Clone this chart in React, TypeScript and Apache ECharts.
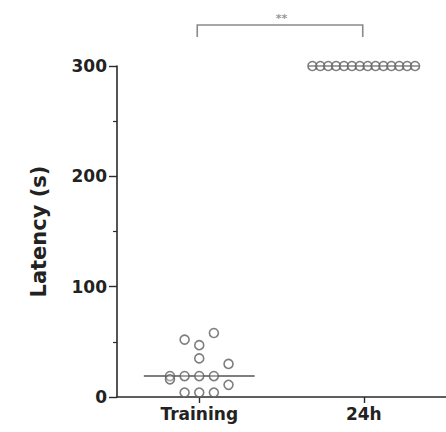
import React, { useEffect, useRef } from "react";
import * as echarts from "echarts";

// ---- data ----
const categories = ["Training", "24h"];
const trainingLatency = [58, 52, 47, 35, 30, 19, 19, 19, 19, 16, 11, 4, 4, 4];
// swarm column of each Training point (as seen in the picture)
const trainingSwarmColumn = [1, -1, 0, 0, 2, -2, -1, 0, 1, -2, 2, -1, 0, 1];
const latency24h = [300, 300, 300, 300, 300, 300, 300, 300, 300, 300, 300, 300, 300, 300];
const yTickValues = [0, 100, 200, 300];
const yAxisTitle = "Latency (s)";
const significance = "**";

const FONT = "DejaVu Sans";
const AXIS_COLOR = "#2a2a2a";
const POINT_COLOR = "#5e5e5e";

function median(values: number[]): number {
  const s = [...values].sort((a, b) => a - b);
  const m = Math.floor(s.length / 2);
  return s.length % 2 ? s[m] : (s[m - 1] + s[m]) / 2;
}

export default function App() {
  const ref = useRef<HTMLDivElement>(null);

  useEffect(() => {
    if (!ref.current) return;
    const chart = echarts.init(ref.current, null, { renderer: "svg" });

    const trainingStep = 0.089;
    const step24h = 0.048;
    const trainingPoints = trainingLatency.map((v, i) => [0 + trainingSwarmColumn[i] * trainingStep, v]);
    const points24h = latency24h.map((v, i) => [1 + (i - (latency24h.length - 1) / 2) * step24h, v]);
    const medians = [
      [0, median(trainingLatency)],
      [1, median(latency24h)],
    ];

    const yMax = yTickValues[yTickValues.length - 1];

    chart.setOption({
      animation: false,
      grid: { left: 117, right: 0, top: 66, bottom: 35, containLabel: false },
      xAxis: [
        {
          type: "category",
          data: categories,
          boundaryGap: true,
          axisLine: { show: true, onZero: false, lineStyle: { color: AXIS_COLOR, width: 1.6 } },
          axisTick: { show: true, alignWithLabel: true, length: 6, lineStyle: { color: AXIS_COLOR, width: 1.4 } },
          axisLabel: { color: "#222", fontFamily: FONT, fontWeight: "bold", fontSize: 17, margin: 8 },
          splitLine: { show: false },
        },
        {
          type: "value",
          min: -0.5,
          max: 1.5,
          show: false,
          splitLine: { show: false },
        },
      ],
      yAxis: {
        type: "value",
        min: yTickValues[0],
        max: yMax,
        interval: 100,
        name: yAxisTitle,
        nameLocation: "middle",
        nameGap: 68,
        nameTextStyle: { color: "#222", fontFamily: FONT, fontWeight: "bold", fontSize: 21 },
        axisLine: { show: true, onZero: false, lineStyle: { color: AXIS_COLOR, width: 1.6 } },
        axisTick: { show: true, inside: false, length: 8, lineStyle: { color: AXIS_COLOR, width: 1.4 } },
        minorTick: { show: true, splitNumber: 2, length: 4, lineStyle: { color: AXIS_COLOR, width: 1.2 } },
        axisLabel: { color: "#222", fontFamily: FONT, fontWeight: "bold", fontSize: 17, margin: 10 },
        splitLine: { show: false },
        minorSplitLine: { show: false },
      },
      series: [
        {
          type: "custom",
          xAxisIndex: 1,
          data: medians,
          z: 1,
          renderItem: (params: any, api: any) => {
            const c = api.coord([api.value(0), api.value(1)]);
            const half = api.size([0.337, 0])[0];
            return {
              type: "line",
              shape: { x1: c[0] - half, y1: c[1], x2: c[0] + half, y2: c[1] },
              style: { stroke: "#555", lineWidth: 1.4 },
            };
          },
        },
        {
          type: "scatter",
          xAxisIndex: 1,
          data: trainingPoints,
          symbol: "circle",
          symbolSize: 9,
          z: 2,
          itemStyle: { color: "rgba(255,255,255,0.35)", borderColor: POINT_COLOR, borderWidth: 1.6 },
        },
        {
          type: "scatter",
          xAxisIndex: 1,
          data: points24h,
          symbol: "circle",
          symbolSize: 9,
          z: 2,
          itemStyle: { color: "rgba(255,255,255,0.35)", borderColor: POINT_COLOR, borderWidth: 1.6 },
        },
        {
          type: "custom",
          xAxisIndex: 1,
          data: [[0, yMax]],
          clip: false,
          renderItem: (params: any, api: any) => {
            const p0 = api.coord([0, yMax]);
            const p1 = api.coord([1, yMax]);
            const y = p0[1] - 41;
            const yEnd = y + 12;
            return {
              type: "group",
              children: [
                {
                  type: "polyline",
                  shape: { points: [[p0[0] - 2, yEnd], [p0[0] - 2, y], [p1[0] - 1, y], [p1[0] - 1, yEnd]] },
                  style: { stroke: "#8a8a8a", lineWidth: 1.6, fill: null },
                },
                {
                  type: "text",
                  style: {
                    text: significance,
                    x: (p0[0] + p1[0]) / 2,
                    y: y - 7,
                    align: "center",
                    verticalAlign: "middle",
                    fill: "#999",
                    font: `bold 11px "${FONT}"`,
                  },
                },
              ],
            };
          },
        },
      ],
    });

    return () => chart.dispose();
  }, []);

  return (
    <div
      ref={ref}
      style={{ position: "absolute", left: 0, top: 0, width: 446, height: 432, background: "#fff" }}
    />
  );
}
